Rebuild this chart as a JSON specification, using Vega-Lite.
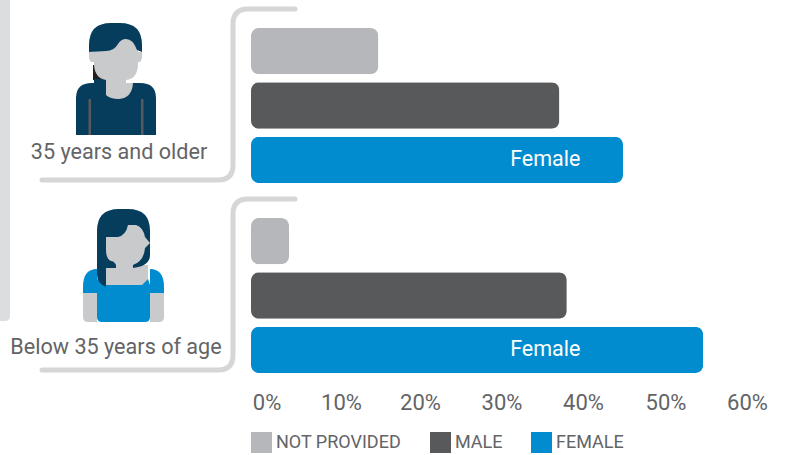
{"$schema":"https://vega.github.io/schema/vega-lite/v6.json","width":786,"height":390,"autosize":"none","padding":{"left":0,"top":0,"right":0,"bottom":65},"background":"white",
"config":{"view":{"stroke":null},"font":"Roboto"},
"datasets":{"bars":[
{"group":"35 years and older","gender":"Not provided","pct":15.4},
{"group":"35 years and older","gender":"Male","pct":37.3},
{"group":"35 years and older","gender":"Female","pct":45},
{"group":"Below 35 years of age","gender":"Not provided","pct":4.6},
{"group":"Below 35 years of age","gender":"Male","pct":38.2},
{"group":"Below 35 years of age","gender":"Female","pct":54.7}],
"parts":[
{"group":"35 years and older","part":"sidebar"},
{"group":"35 years and older","part":"hairback1"},
{"group":"35 years and older","part":"body1"},
{"group":"35 years and older","part":"lines1"},
{"group":"35 years and older","part":"skin1"},
{"group":"35 years and older","part":"hair1"},
{"group":"Below 35 years of age","part":"arms2"},
{"group":"Below 35 years of age","part":"sleeves2"},
{"group":"Below 35 years of age","part":"chest2"},
{"group":"Below 35 years of age","part":"shirt2"},
{"group":"Below 35 years of age","part":"hair2"},
{"group":"Below 35 years of age","part":"face2"}]},
"encoding":{"y":{"field":"group","type":"nominal","axis":null,"scale":{"domain":["35 years and older","Below 35 years of age"],"range":[10,390],"paddingInner":0,"paddingOuter":0}}},
"layer":[
{"data":{"name":"parts"},"mark":{"type":"point","filled":true,"size":4,"opacity":1,"xOffset":-135},
"encoding":{"x":{"datum":0,"type":"quantitative","scale":{"domain":[0,60],"range":[251,747]},
"axis":{"values":[1.875,10.89,20.44,30.3,40.16,50.14,60],"title":null,"labelExpr":"round(datum.value/10)*10+'%'","domain":false,"ticks":false,"grid":false,"labelAlign":"center","labelBaseline":"middle","labelPadding":12,"labelFontSize":22,"labelColor":"#636466","labelFont":"Roboto","labelFontWeight":400}},
"fill":{"field":"part","type":"nominal","legend":null,"scale":{"domain":["sidebar","hairback1","body1","lines1","skin1","hair1","arms2","sleeves2","chest2","shirt2","hair2","face2"],"range":["#dcdddf","#231f20","#063d5c","#58595b","#c8cacc","#063d5c","#c8cacc","#008ccf","#c8cacc","#008ccf","#063d5c","#c8cacc"]}},
"shape":{"field":"part","type":"nominal","legend":null,"scale":{"domain":["sidebar","hairback1","body1","lines1","skin1","hair1","arms2","sleeves2","chest2","shirt2","hair2","face2"],"range":[
"M-116 -105H-106V211Q-106 216 -111 216H-116Z",
"M-23 -40H-9V-25H-23Z",
"M-22 -26H-10V-22H24Q40 -22 40 -7V30H-40V-7Q-40 -22 -24 -22H-22Z",
"M-27.5 -6H-25V30H-27.5ZM25 -6H27.5V30H25Z",
"M-22 -70H22V-42Q22 -26 10 -25V-22H17Q16 -7 3 -6Q-6 -6 -10 -10V-25Q-22 -27 -22 -42ZM-27 -53H-22V-43H-25Q-27 -45 -27 -48ZM22 -53H26V-48Q26 -45 24 -43H22Z",
"M-27 -53V-60Q-27 -82 -5 -82H4Q26 -82 26 -60V-53L21 -55Q17 -66 10 -66Q5 -66 2 -61Q-2 -54 -10 -54Z",
"M-33 -2H-19V27H-28Q-33 27 -33 22ZM34 -2H48V22Q48 27 43 27H34Z",
"M-33 -2V-8Q-33 -26 -19 -26V-2ZM34 -26Q48 -26 48 -8V-2H34Z",
"M-10 -30H32V-10H-10Z",
"M-19 -16L-10 -10H26L32 -16L34 -10V22Q34 27 29 27H-14Q-19 27 -19 22Z",
"M-10 -8Q-19 -12 -19 -20V-64Q-19 -86 3 -86H12Q34 -86 34 -64V-40Q34 -29 17 -27H-10Z",
"M-10 -58H2Q10 -60 12 -70H20Q27 -68 29 -58L34 -52L29 -47Q28 -34 17 -30V-24H0V-30Q-2 -34 -5 -34Q-10 -36 -10 -45Z"]}}}},
{"data":{"values":[{"group":"35 years and older"},{"group":"Below 35 years of age"}]},"mark":{"type":"point","filled":false,"size":4,"opacity":1,"stroke":"#d5d6d8","strokeWidth":5,"strokeCap":"round","fill":"transparent",
"shape":"M-209 75H-33Q-18 75 -18 60V-81Q-18 -96 -3 -96H44"},
"encoding":{"x":{"datum":0,"type":"quantitative"}}},
{"data":{"name":"bars"},"mark":{"type":"bar","cornerRadius":8},
"encoding":{"x":{"field":"pct","type":"quantitative"},
"yOffset":{"field":"gender","type":"nominal","scale":{"domain":["Not provided","Male","Female"],"range":[18,173],"paddingInner":0.148,"paddingOuter":0}},
"color":{"field":"gender","type":"nominal","scale":{"domain":["Not provided","Male","Female"],"range":["#b6b7ba","#58595b","#008ccf"]},
"legend":{"orient":"none","legendX":251,"legendY":432,"direction":"horizontal","columns":3,"title":null,"symbolType":"square","symbolSize":441,"symbolStrokeWidth":0,"symbolOpacity":1,"columnPadding":28,"labelOffset":4,"labelFontSize":18,"labelColor":"#636466","labelFont":"Roboto","labelFontWeight":400,"labelExpr":"upper(datum.label)","gridAlign":"each"}}}},
{"data":{"name":"bars"},"transform":[{"filter":"datum.gender==='Female'"}],"mark":{"type":"text","color":"white","fontSize":21.5,"font":"Roboto","fontWeight":400,"yOffset":2},
"encoding":{"x":{"datum":35.6,"type":"quantitative"},"yOffset":{"field":"gender","type":"nominal","scale":{"domain":["Not provided","Male","Female"],"range":[18,173],"paddingInner":0.148,"paddingOuter":0}},"text":{"field":"gender"}}},
{"data":{"values":[{"group":"35 years and older"}]},"mark":{"type":"text","color":"#636466","fontSize":21.6,"font":"Roboto","fontWeight":400,"xOffset":-132,"yOffset":48},
"encoding":{"x":{"datum":0,"type":"quantitative"},"text":{"field":"group"}}},
{"data":{"values":[{"group":"Below 35 years of age"}]},"mark":{"type":"text","color":"#636466","fontSize":21.6,"font":"Roboto","fontWeight":400,"xOffset":-135,"yOffset":53},
"encoding":{"x":{"datum":0,"type":"quantitative"},"text":{"field":"group"}}}
]}
